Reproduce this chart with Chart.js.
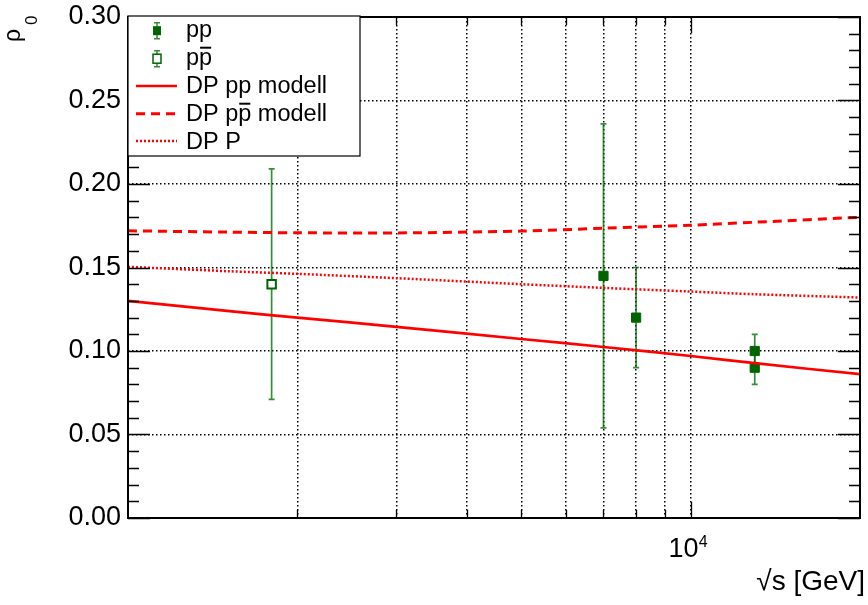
<html>
    <head>
        <title>rho parameter vs energy</title>
        <style>
            body,html{
                margin: 0;
                padding: 0;
                background: #fff;
                overflow: hidden;
            }
            canvas{
                display: block;
            }
        </style>
    </head>
    <body>
        <canvas id="rhoChart" width="868" height="605"></canvas>
        <script src="https://cdn.jsdelivr.net/npm/chart.js@4/dist/chart.umd.min.js"></script>
        <script>
            // measured points
            let ppEnergy = [7000, 8000, 13000, 13000];
            let ppRho = [0.145, 0.12, 0.10, 0.09];
            let ppErr = [0.091, 0.03, 0.01, 0.01];
            let ppbarEnergy = [1800];
            let ppbarRho = [0.14];
            let ppbarErr = [0.069];

            // model curves
            let modelEnergy = [1000, 1500, 2000, 3000, 5000, 7000, 10000, 13000, 20000];
            let ppModel = [0.1300, 0.1240, 0.1200, 0.1145, 0.1072, 0.1024, 0.0970, 0.0927, 0.0861];
            let ppbarModel = [0.1720, 0.1712, 0.1708, 0.1707, 0.1718, 0.1735, 0.1753, 0.1771, 0.1801];
            let pomeronModel = [0.1504, 0.1478, 0.1462, 0.1436, 0.1400, 0.1378, 0.1356, 0.1340, 0.1320];

            // axes
            let xMin = 1000, xMax = 20000;
            let xGrid = [2000, 3000, 4000, 5000, 6000, 7000, 8000, 9000, 10000];
            let yMin = 0, yMax = 0.3, yStep = 0.05, yMinorStep = 0.01;

            let green = "#006400";
            let red = "#ff0000";
            let font = "'Liberation Sans', Arial, sans-serif";

            function pts(xs, ys) {
                return xs.map((x, i) => ({x: x, y: ys[i]}));
            }

            function drawErrors(chart, xs, ys, errs) {
                let ctx = chart.ctx;
                let sx = chart.scales.x, sy = chart.scales.y;
                ctx.save();
                ctx.strokeStyle = "rgba(0,110,0,0.78)";
                ctx.lineWidth = 1.7;
                xs.forEach((x, i) => {
                    let px = sx.getPixelForValue(x);
                    let top = sy.getPixelForValue(ys[i] + errs[i]);
                    let bot = sy.getPixelForValue(ys[i] - errs[i]);
                    ctx.beginPath();
                    ctx.moveTo(px, top); ctx.lineTo(px, bot);
                    ctx.moveTo(px - 3, top); ctx.lineTo(px + 3, top);
                    ctx.moveTo(px - 3, bot); ctx.lineTo(px + 3, bot);
                    ctx.stroke();
                });
                ctx.restore();
            }

            // p followed by p with a bar over it
            function drawBarText(ctx, before, x, y) {
                ctx.fillText(before + "p", x, y);
                let w0 = ctx.measureText(before).width;
                let wp = ctx.measureText("p").width;
                ctx.save();
                ctx.lineWidth = 2;
                ctx.strokeStyle = "#000";
                ctx.beginPath();
                ctx.moveTo(x + w0 + 1, y - 17);
                ctx.lineTo(x + w0 + wp - 1, y - 17);
                ctx.stroke();
                ctx.restore();
                return w0 + wp;
            }

            let errorBars = {
                id: "errorBars",
                beforeDatasetsDraw(chart) {
                    drawErrors(chart, ppEnergy, ppRho, ppErr);
                    drawErrors(chart, ppbarEnergy, ppbarRho, ppbarErr);
                }
            };

            let frameAndLegend = {
                id: "frameAndLegend",
                afterDatasetsDraw(chart) {
                    let ctx = chart.ctx;
                    let a = chart.chartArea;
                    let sx = chart.scales.x, sy = chart.scales.y;
                    ctx.save();

                    // tick marks on all four sides
                    ctx.strokeStyle = "#000";
                    ctx.lineWidth = 1.3;
                    ctx.beginPath();
                    for (let v = yMin; v <= yMax + 1e-9; v += yMinorStep) {
                        let py = Math.round(sy.getPixelForValue(v)) + 0.5;
                        let major = Math.abs(v / yStep - Math.round(v / yStep)) < 1e-6;
                        let len = major ? 22 : 11;
                        ctx.moveTo(a.left, py); ctx.lineTo(a.left + len, py);
                        ctx.moveTo(a.right, py); ctx.lineTo(a.right - len, py);
                    }
                    xGrid.forEach(v => {
                        let px = Math.round(sx.getPixelForValue(v)) + 0.5;
                        let len = v === 10000 ? 16 : 8;
                        ctx.moveTo(px, a.bottom); ctx.lineTo(px, a.bottom - len);
                        ctx.moveTo(px, a.top); ctx.lineTo(px, a.top + len);
                    });
                    ctx.stroke();

                    // frame
                    ctx.lineWidth = 2;
                    ctx.strokeRect(a.left, a.top, a.right - a.left, a.bottom - a.top);

                    // legend box
                    let lx = 128, ly = 16, lw = 232, lh = 140;
                    ctx.fillStyle = "#fff";
                    ctx.fillRect(lx, ly, lw, lh);
                    ctx.lineWidth = 1.2;
                    ctx.strokeRect(lx, ly, lw, lh);

                    let mx = 157, tx = 186;
                    let rows = [36.7, 64.7, 92.7, 120.7, 148.7];

                    // pp marker
                    ctx.strokeStyle = "rgba(0,110,0,0.8)";
                    ctx.lineWidth = 1.5;
                    [rows[0], rows[1]].forEach(b => {
                        let c = b - 6;
                        ctx.beginPath();
                        ctx.moveTo(mx, c - 8); ctx.lineTo(mx, c + 8);
                        ctx.moveTo(mx - 3, c - 8); ctx.lineTo(mx + 3, c - 8);
                        ctx.moveTo(mx - 3, c + 8); ctx.lineTo(mx + 3, c + 8);
                        ctx.stroke();
                    });
                    ctx.fillStyle = green;
                    ctx.fillRect(mx - 4, rows[0] - 10.5, 8, 9);
                    ctx.fillStyle = "#fff";
                    ctx.fillRect(mx - 4, rows[1] - 10.5, 8, 9);
                    ctx.strokeStyle = green;
                    ctx.lineWidth = 1.5;
                    ctx.strokeRect(mx - 4, rows[1] - 10.5, 8, 9);

                    // line samples
                    ctx.strokeStyle = red;
                    let lines = [[rows[2] - 6.7, [], 2.7], [rows[3] - 7, [9, 6], 3], [rows[4] - 7.7, [2, 2], 2.5]];
                    lines.forEach(l => {
                        ctx.setLineDash(l[1]);
                        ctx.lineWidth = l[2];
                        ctx.beginPath();
                        ctx.moveTo(136, l[0]); ctx.lineTo(177, l[0]);
                        ctx.stroke();
                    });
                    ctx.setLineDash([]);

                    // legend text
                    ctx.fillStyle = "#000";
                    ctx.font = "23.5px " + font;
                    ctx.textAlign = "left";
                    ctx.textBaseline = "alphabetic";
                    ctx.fillText("pp", tx, rows[0]);
                    drawBarText(ctx, "p", tx, rows[1]);
                    ctx.fillText("DP pp modell", tx, rows[2]);
                    let w = drawBarText(ctx, "DP p", tx, rows[3]);
                    ctx.fillText(" modell", tx + w, rows[3]);
                    ctx.fillText("DP P", tx, rows[4]);
                    ctx.restore();
                },
                afterDraw(chart) {
                    let ctx = chart.ctx;
                    let sx = chart.scales.x;
                    ctx.save();
                    ctx.fillStyle = "#000";
                    ctx.textBaseline = "alphabetic";

                    // x tick label 10^4
                    let p4 = sx.getPixelForValue(10000);
                    ctx.font = "27px " + font;
                    ctx.textAlign = "right";
                    ctx.fillText("10", p4 + 8, 557);
                    ctx.font = "16px " + font;
                    ctx.textAlign = "left";
                    ctx.fillText("4", p4 + 8, 547);

                    // x axis title
                    ctx.font = "28px " + font;
                    ctx.textAlign = "right";
                    ctx.fillText("\u221as [GeV]", 865, 590);

                    // y axis title, rotated
                    ctx.translate(20, 42);
                    ctx.rotate(-Math.PI / 2);
                    ctx.textAlign = "left";
                    ctx.font = "23px " + font;
                    ctx.fillText("\u03c1", 0, 0);
                    ctx.font = "17px " + font;
                    ctx.fillText("0", 17, 17);
                    ctx.restore();
                }
            };

            let gridStyle = {
                color: "#000",
                lineWidth: 1.5,
                drawTicks: false
            };
            let borderStyle = {
                display: false,
                dash: [1.5, 2.5]
            };

            let ctx = document.getElementById("rhoChart").getContext("2d");
            let rhoChart = new Chart(ctx, {
                type: "scatter",
                data: {
                    datasets: [
                        {
                            label: "DP pp modell",
                            type: "line",
                            data: pts(modelEnergy, ppModel),
                            borderColor: red,
                            borderWidth: 2.7,
                            pointRadius: 0,
                            tension: 0.3,
                            fill: false
                        },
                        {
                            label: "DP ppbar modell",
                            type: "line",
                            data: pts(modelEnergy, ppbarModel),
                            borderColor: red,
                            borderWidth: 3,
                            borderDash: [9, 6],
                            pointRadius: 0,
                            tension: 0.3,
                            fill: false
                        },
                        {
                            label: "DP P",
                            type: "line",
                            data: pts(modelEnergy, pomeronModel),
                            borderColor: red,
                            borderWidth: 2.5,
                            borderDash: [2, 2],
                            pointRadius: 0,
                            tension: 0.3,
                            fill: false
                        },
                        {
                            label: "pp",
                            data: pts(ppEnergy, ppRho),
                            pointStyle: "rect",
                            pointRadius: 6.5,
                            backgroundColor: green,
                            borderColor: green,
                            borderWidth: 1
                        },
                        {
                            label: "ppbar",
                            data: pts(ppbarEnergy, ppbarRho),
                            pointStyle: "rect",
                            pointRadius: 6,
                            backgroundColor: "#fff",
                            borderColor: green,
                            borderWidth: 2
                        }
                    ]
                },
                options: {
                    responsive: false,
                    animation: false,
                    devicePixelRatio: 1,
                    layout: {
                        padding: {left: 0, right: 0, top: 17, bottom: 0}
                    },
                    plugins: {
                        legend: {display: false},
                        tooltip: {enabled: false}
                    },
                    scales: {
                        x: {
                            type: "logarithmic",
                            min: xMin,
                            max: xMax,
                            afterFit: s => {
                                s.height = 87;
                                s.paddingLeft = 0;
                                s.paddingRight = 0;
                            },
                            afterBuildTicks: s => { s.ticks = xGrid.map(v => ({value: v})); },
                            ticks: {display: false},
                            grid: gridStyle,
                            border: borderStyle
                        },
                        y: {
                            min: yMin,
                            max: yMax,
                            afterFit: s => {
                                s.width = 128;
                                s.paddingTop = 0;
                                s.paddingBottom = 0;
                            },
                            afterBuildTicks: s => {
                                s.ticks = [];
                                for (let i = 0; i <= 6; i++) s.ticks.push({value: +(i * yStep).toFixed(2)});
                            },
                            ticks: {
                                padding: 7,
                                color: "#000",
                                font: {family: font, size: 27},
                                callback: v => v.toFixed(2)
                            },
                            grid: gridStyle,
                            border: borderStyle
                        }
                    }
                },
                plugins: [errorBars, frameAndLegend]
            });

            // pull the plot frame out to its right edge at x = 864
            let shift = 864 - rhoChart.chartArea.right;
            if (Math.abs(shift) > 0.5) {
                rhoChart.options.layout.padding.right -= shift;
                rhoChart.update();
            }
        </script>
    </body>
</html>
